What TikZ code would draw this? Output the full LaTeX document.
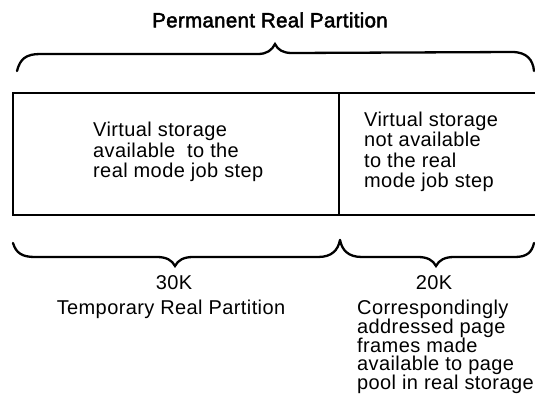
\documentclass[tikz,border=0pt]{standalone}
\usepackage{fontspec}
\setmainfont{Liberation Sans}[LetterSpace=2]
\newfontfamily\titlefont{Liberation Sans}[LetterSpace=1.5,FakeBold=2.2]
\begin{document}
\begin{tikzpicture}[x=1pt,y=-1pt,
  lbl/.style={inner sep=0pt,font=\fontsize{20}{20.5}\selectfont,align=left},
  ctr/.style={inner sep=0pt,font=\fontsize{20}{20.5}\selectfont,align=center},
  edge/.style={line width=2pt},
  brace/.style={line width=2.3pt,line cap=round}]
\useasboundingbox (0,0) rectangle (535,413);

% title and upper brace
\node[inner sep=0pt,font=\titlefont\fontsize{20.5}{22}\selectfont] (title) at (270,20) {Permanent Real Partition};
\draw[brace] (17,71) .. controls (20,59) and (26,54) .. (40,54) -- (258,54)
  .. controls (267,54) and (272,50) .. (275,44)
  .. controls (278,50) and (283,53) .. (292,53) -- (512,52)
  .. controls (527,52) and (533,60) .. (534,71);

% partition box
\draw[edge] (540,93) -- (13,93) -- (13,215) -- (540,215);
\draw[edge] (339,93) -- (339,215);

\node[lbl,anchor=west] (avail) at (93,152) {Virtual storage\\available\ \ to the\\real mode job step};
\node[lbl,anchor=west] (notavail) at (364,152) {Virtual storage\\not available\\to the real\\mode job step};

% lower braces
\draw[brace] (13,243) .. controls (16,253) and (22,257) .. (35,257) -- (157,257)
  .. controls (166,257) and (172,260) .. (175,266)
  .. controls (178,260) and (184,257) .. (193,257) -- (318,257)
  .. controls (332,257) and (338,250) .. (340,240);
\draw[brace] (340,240) .. controls (342,250) and (348,257) .. (362,257) -- (418,257)
  .. controls (427,257) and (433,260) .. (436,266)
  .. controls (439,260) and (445,257) .. (454,257) -- (515,257)
  .. controls (527,257) and (532,252) .. (534,243);

\node[ctr] (k30) at (174,283) {30K};
\node[ctr] (k20) at (434,283) {20K};
\node[ctr] (temp) at (171,309) {Temporary Real Partition};
\node[lbl,anchor=north west,font=\fontsize{20}{18.7}\selectfont] (frames) at (357,300) {Correspondingly\\addressed page\\frames made\\available to page\\pool in real storage};
\end{tikzpicture}
\end{document}
